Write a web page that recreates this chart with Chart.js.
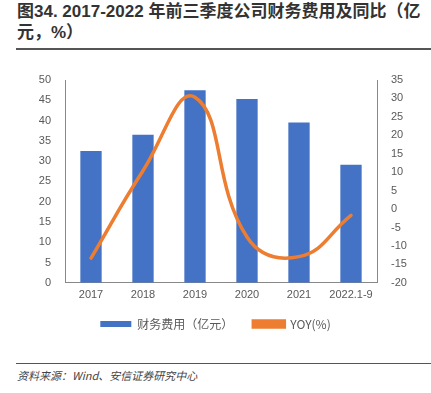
<!DOCTYPE html>
<html><head><meta charset="utf-8">
<script src="https://cdn.jsdelivr.net/npm/chart.js@4"></script>
<style>
html,body{margin:0;padding:0;background:#fff;width:431px;height:393px;overflow:hidden;}
#title{position:absolute;left:17px;top:1px;width:414px;font-family:"Liberation Sans","Noto Sans CJK SC",sans-serif;font-weight:bold;font-size:17px;line-height:21px;color:#333;}
#rule1{position:absolute;left:16px;top:48px;width:415px;height:2px;background:#555;}
#rule2{position:absolute;left:16px;top:363px;width:415px;height:1px;background:#555;}
#src{position:absolute;left:17px;top:367px;font-family:"Noto Sans CJK SC",sans-serif;font-style:italic;font-size:11px;color:#444;}
#wrap{position:absolute;left:0;top:60px;width:431px;height:280px;}
</style></head><body>
<div id="title">图34. 2017-2022 年前三季度公司财务费用及同比（亿元，%）</div>
<div id="rule1"></div>
<div id="wrap"><canvas id="c"></canvas></div>
<div id="rule2"></div>
<div id="src">资料来源：Wind、安信证券研究中心</div>
<script>
const categories = ["2017","2018","2019","2020","2021","2022.1-9"];
const expense = [32.5, 36.5, 47.5, 45.3, 39.5, 29.1];
const yoy = [-13.3, 10.4, 30.3, -7.6, -12.9, -1.7];
const leftTicks = [0,5,10,15,20,25,30,35,40,45,50];
const rightTicks = [-20,-15,-10,-5,0,5,10,15,20,25,30,35];
const tickFont = {family:"Liberation Sans, Arial, sans-serif", size:11};
new Chart(document.getElementById('c'), {
  data: {
    labels: categories,
    datasets: [
      {type:'line', label:'YOY(%)', data: yoy, yAxisID:'y1', borderColor:'#ED7D31', backgroundColor:'#ED7D31', borderWidth:3.5, tension:0.45, pointRadius:0, borderCapStyle:'round', order:0},
      {type:'bar', label:'财务费用（亿元）', data: expense, yAxisID:'y', backgroundColor:'#4472C4', categoryPercentage:1, barPercentage:0.41, order:1}
    ]
  },
  options: {
    responsive:true, maintainAspectRatio:false, animation:false,
    layout:{padding:{top:20,left:0,right:0,bottom:0}},
    plugins:{
      tooltip:{enabled:false},
      legend:{position:'bottom', reverse:true,
        labels:{boxWidth:31, boxHeight:6, padding:20, color:'#595959', font:{family:"Noto Sans CJK SC, sans-serif", size:12}}}
    },
    scales:{
      x:{grid:{display:false, drawTicks:false}, border:{color:'#888'}, ticks:{color:'#595959', font:tickFont, padding:6, maxRotation:0},
         afterFit(s){s.height-=10;}},
      y:{position:'left', min:0, max:50, afterBuildTicks(s){s.ticks=leftTicks.map(v=>({value:v}));},
         afterFit(s){s.width=65;}, grid:{display:false}, border:{color:'#888'},
         ticks:{color:'#595959', font:tickFont, padding:6}},
      y1:{position:'right', min:-20, max:35, afterBuildTicks(s){s.ticks=rightTicks.map(v=>({value:v}));},
         afterFit(s){s.width=54;}, grid:{display:false}, border:{color:'#888'},
         ticks:{color:'#595959', font:tickFont, padding:6}}
    }
  }
});
</script>
</body></html>
